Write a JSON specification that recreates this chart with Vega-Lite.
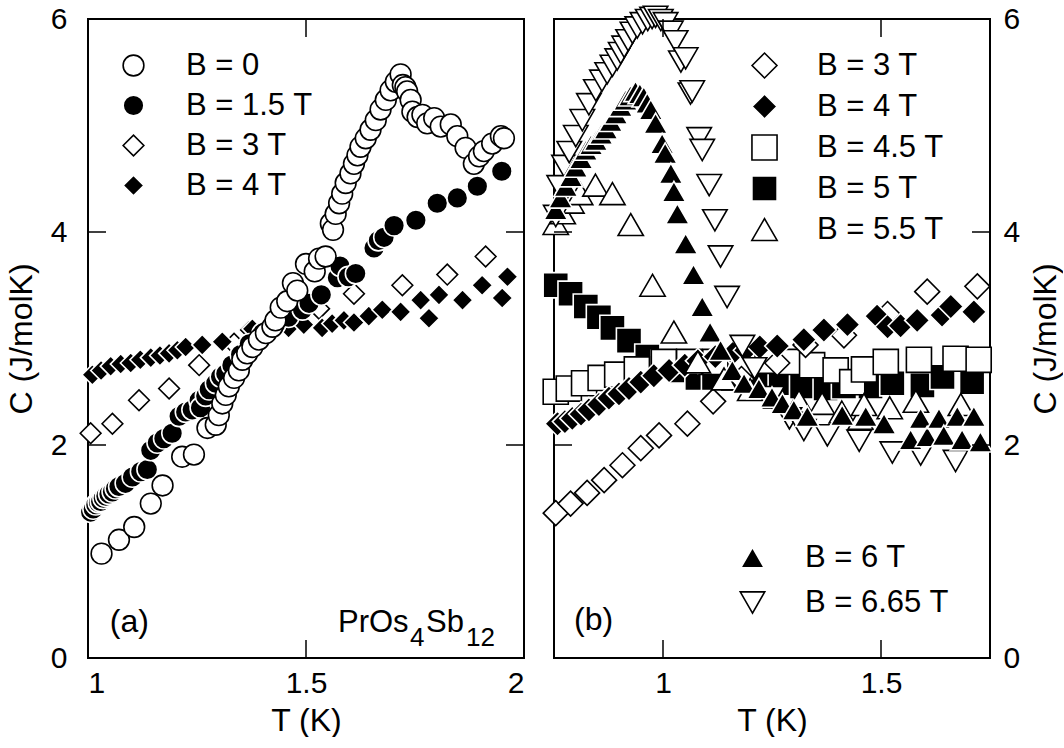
{
  "$schema": "https://vega.github.io/schema/vega-lite/v6.json",
  "background": "white",
  "padding": {"left": 4, "top": 2, "right": 0, "bottom": 0},
  "spacing": 10,
  "config": {
    "font": "Liberation Sans",
    "view": {"stroke": "black", "strokeWidth": 2},
    "axis": {
      "domain": false, "ticks": false, "grid": false,
      "labelFont": "Liberation Sans", "labelFontSize": 30, "labelColor": "black",
      "titleFont": "Liberation Sans", "titleFontSize": 32, "titleFontWeight": "normal", "titleColor": "black"
    },
    "legend": {
      "labelFont": "Liberation Sans", "labelFontSize": 31, "labelColor": "black",
      "padding": 0, "rowPadding": 8, "labelOffset": 37, "symbolOpacity": 1, "symbolStrokeWidth": 1.6, "titlePadding": 0
    }
  },
  "datasets": {
    "a": [
      {"B": "B = 3 T", "T": 1.006, "C": 2.11}, {"B": "B = 3 T", "T": 1.056, "C": 2.20}, {"B": "B = 3 T", "T": 1.117, "C": 2.42}, {"B": "B = 3 T", "T": 1.186, "C": 2.53}, {"B": "B = 3 T", "T": 1.255, "C": 2.75}, {"B": "B = 3 T", "T": 1.335, "C": 2.95}, {"B": "B = 3 T", "T": 1.40, "C": 3.03}, {"B": "B = 3 T", "T": 1.46, "C": 3.12}, {"B": "B = 3 T", "T": 1.53, "C": 3.28}, {"B": "B = 3 T", "T": 1.610, "C": 3.42}, {"B": "B = 3 T", "T": 1.721, "C": 3.50}, {"B": "B = 3 T", "T": 1.824, "C": 3.60}, {"B": "B = 3 T", "T": 1.912, "C": 3.77},
      {"B": "B = 4 T", "T": 1.010, "C": 2.66}, {"B": "B = 4 T", "T": 1.030, "C": 2.70}, {"B": "B = 4 T", "T": 1.052, "C": 2.74}, {"B": "B = 4 T", "T": 1.075, "C": 2.76}, {"B": "B = 4 T", "T": 1.098, "C": 2.77}, {"B": "B = 4 T", "T": 1.120, "C": 2.80}, {"B": "B = 4 T", "T": 1.144, "C": 2.82}, {"B": "B = 4 T", "T": 1.165, "C": 2.84}, {"B": "B = 4 T", "T": 1.186, "C": 2.86}, {"B": "B = 4 T", "T": 1.205, "C": 2.89}, {"B": "B = 4 T", "T": 1.224, "C": 2.92}, {"B": "B = 4 T", "T": 1.262, "C": 2.94}, {"B": "B = 4 T", "T": 1.308, "C": 2.97}, {"B": "B = 4 T", "T": 1.369, "C": 3.08}, {"B": "B = 4 T", "T": 1.377, "C": 3.09}, {"B": "B = 4 T", "T": 1.42, "C": 3.08}, {"B": "B = 4 T", "T": 1.46, "C": 3.10}, {"B": "B = 4 T", "T": 1.495, "C": 3.13}, {"B": "B = 4 T", "T": 1.537, "C": 3.10}, {"B": "B = 4 T", "T": 1.560, "C": 3.14}, {"B": "B = 4 T", "T": 1.587, "C": 3.17}, {"B": "B = 4 T", "T": 1.610, "C": 3.15}, {"B": "B = 4 T", "T": 1.644, "C": 3.21}, {"B": "B = 4 T", "T": 1.675, "C": 3.27}, {"B": "B = 4 T", "T": 1.717, "C": 3.25}, {"B": "B = 4 T", "T": 1.763, "C": 3.36}, {"B": "B = 4 T", "T": 1.782, "C": 3.19}, {"B": "B = 4 T", "T": 1.805, "C": 3.41}, {"B": "B = 4 T", "T": 1.859, "C": 3.36}, {"B": "B = 4 T", "T": 1.904, "C": 3.50}, {"B": "B = 4 T", "T": 1.950, "C": 3.38}, {"B": "B = 4 T", "T": 1.962, "C": 3.58},
      {"B": "B = 1.5 T", "T": 1.006, "C": 1.37}, {"B": "B = 1.5 T", "T": 1.012, "C": 1.40}, {"B": "B = 1.5 T", "T": 1.018, "C": 1.44}, {"B": "B = 1.5 T", "T": 1.024, "C": 1.46}, {"B": "B = 1.5 T", "T": 1.029, "C": 1.47}, {"B": "B = 1.5 T", "T": 1.035, "C": 1.50}, {"B": "B = 1.5 T", "T": 1.041, "C": 1.52}, {"B": "B = 1.5 T", "T": 1.048, "C": 1.54}, {"B": "B = 1.5 T", "T": 1.056, "C": 1.56}, {"B": "B = 1.5 T", "T": 1.063, "C": 1.59}, {"B": "B = 1.5 T", "T": 1.071, "C": 1.61}, {"B": "B = 1.5 T", "T": 1.086, "C": 1.64}, {"B": "B = 1.5 T", "T": 1.102, "C": 1.70}, {"B": "B = 1.5 T", "T": 1.121, "C": 1.75}, {"B": "B = 1.5 T", "T": 1.136, "C": 1.77}, {"B": "B = 1.5 T", "T": 1.144, "C": 1.95}, {"B": "B = 1.5 T", "T": 1.159, "C": 2.02}, {"B": "B = 1.5 T", "T": 1.174, "C": 2.06}, {"B": "B = 1.5 T", "T": 1.193, "C": 2.11}, {"B": "B = 1.5 T", "T": 1.209, "C": 2.27}, {"B": "B = 1.5 T", "T": 1.224, "C": 2.31}, {"B": "B = 1.5 T", "T": 1.239, "C": 2.33}, {"B": "B = 1.5 T", "T": 1.255, "C": 2.42}, {"B": "B = 1.5 T", "T": 1.258, "C": 2.35}, {"B": "B = 1.5 T", "T": 1.270, "C": 2.46}, {"B": "B = 1.5 T", "T": 1.278, "C": 2.52}, {"B": "B = 1.5 T", "T": 1.293, "C": 2.58}, {"B": "B = 1.5 T", "T": 1.304, "C": 2.64}, {"B": "B = 1.5 T", "T": 1.316, "C": 2.67}, {"B": "B = 1.5 T", "T": 1.33, "C": 2.75}, {"B": "B = 1.5 T", "T": 1.35, "C": 2.85}, {"B": "B = 1.5 T", "T": 1.37, "C": 2.95}, {"B": "B = 1.5 T", "T": 1.40, "C": 3.05}, {"B": "B = 1.5 T", "T": 1.43, "C": 3.13}, {"B": "B = 1.5 T", "T": 1.46, "C": 3.20}, {"B": "B = 1.5 T", "T": 1.492, "C": 3.27}, {"B": "B = 1.5 T", "T": 1.507, "C": 3.33}, {"B": "B = 1.5 T", "T": 1.535, "C": 3.41}, {"B": "B = 1.5 T", "T": 1.572, "C": 3.57}, {"B": "B = 1.5 T", "T": 1.578, "C": 3.68}, {"B": "B = 1.5 T", "T": 1.597, "C": 3.58}, {"B": "B = 1.5 T", "T": 1.614, "C": 3.61}, {"B": "B = 1.5 T", "T": 1.656, "C": 3.85}, {"B": "B = 1.5 T", "T": 1.666, "C": 3.92}, {"B": "B = 1.5 T", "T": 1.679, "C": 3.95}, {"B": "B = 1.5 T", "T": 1.702, "C": 4.06}, {"B": "B = 1.5 T", "T": 1.752, "C": 4.11}, {"B": "B = 1.5 T", "T": 1.801, "C": 4.27}, {"B": "B = 1.5 T", "T": 1.847, "C": 4.32}, {"B": "B = 1.5 T", "T": 1.893, "C": 4.43}, {"B": "B = 1.5 T", "T": 1.949, "C": 4.57},
      {"B": "B = 0", "T": 1.031, "C": 0.98}, {"B": "B = 0", "T": 1.071, "C": 1.11}, {"B": "B = 0", "T": 1.106, "C": 1.23}, {"B": "B = 0", "T": 1.144, "C": 1.45}, {"B": "B = 0", "T": 1.171, "C": 1.62}, {"B": "B = 0", "T": 1.216, "C": 1.89}, {"B": "B = 0", "T": 1.243, "C": 1.91}, {"B": "B = 0", "T": 1.274, "C": 2.16}, {"B": "B = 0", "T": 1.293, "C": 2.19}, {"B": "B = 0", "T": 1.300, "C": 2.28}, {"B": "B = 0", "T": 1.308, "C": 2.39}, {"B": "B = 0", "T": 1.316, "C": 2.47}, {"B": "B = 0", "T": 1.323, "C": 2.55}, {"B": "B = 0", "T": 1.335, "C": 2.63}, {"B": "B = 0", "T": 1.346, "C": 2.70}, {"B": "B = 0", "T": 1.354, "C": 2.80}, {"B": "B = 0", "T": 1.365, "C": 2.86}, {"B": "B = 0", "T": 1.377, "C": 2.92}, {"B": "B = 0", "T": 1.392, "C": 2.99}, {"B": "B = 0", "T": 1.408, "C": 3.05}, {"B": "B = 0", "T": 1.423, "C": 3.11}, {"B": "B = 0", "T": 1.430, "C": 3.17}, {"B": "B = 0", "T": 1.442, "C": 3.29}, {"B": "B = 0", "T": 1.457, "C": 3.35}, {"B": "B = 0", "T": 1.470, "C": 3.52}, {"B": "B = 0", "T": 1.480, "C": 3.45}, {"B": "B = 0", "T": 1.500, "C": 3.70}, {"B": "B = 0", "T": 1.520, "C": 3.63}, {"B": "B = 0", "T": 1.530, "C": 3.75}, {"B": "B = 0", "T": 1.545, "C": 3.77},
      {"B": "B = 0", "T": 1.557, "C": 4.08}, {"B": "B = 0", "T": 1.562, "C": 4.02}, {"B": "B = 0", "T": 1.568, "C": 4.17}, {"B": "B = 0", "T": 1.576, "C": 4.27}, {"B": "B = 0", "T": 1.583, "C": 4.36}, {"B": "B = 0", "T": 1.591, "C": 4.46}, {"B": "B = 0", "T": 1.602, "C": 4.55}, {"B": "B = 0", "T": 1.610, "C": 4.64}, {"B": "B = 0", "T": 1.618, "C": 4.72}, {"B": "B = 0", "T": 1.625, "C": 4.80}, {"B": "B = 0", "T": 1.637, "C": 4.88}, {"B": "B = 0", "T": 1.648, "C": 4.96}, {"B": "B = 0", "T": 1.660, "C": 5.05}, {"B": "B = 0", "T": 1.671, "C": 5.15}, {"B": "B = 0", "T": 1.683, "C": 5.24}, {"B": "B = 0", "T": 1.694, "C": 5.33}, {"B": "B = 0", "T": 1.706, "C": 5.41}, {"B": "B = 0", "T": 1.717, "C": 5.48}, {"B": "B = 0", "T": 1.722, "C": 5.38}, {"B": "B = 0", "T": 1.728, "C": 5.36}, {"B": "B = 0", "T": 1.732, "C": 5.32}, {"B": "B = 0", "T": 1.740, "C": 5.24}, {"B": "B = 0", "T": 1.744, "C": 5.13}, {"B": "B = 0", "T": 1.756, "C": 5.08}, {"B": "B = 0", "T": 1.767, "C": 5.10}, {"B": "B = 0", "T": 1.778, "C": 5.02}, {"B": "B = 0", "T": 1.794, "C": 5.07}, {"B": "B = 0", "T": 1.809, "C": 4.99}, {"B": "B = 0", "T": 1.832, "C": 5.01}, {"B": "B = 0", "T": 1.847, "C": 4.90}, {"B": "B = 0", "T": 1.866, "C": 4.79}, {"B": "B = 0", "T": 1.885, "C": 4.64}, {"B": "B = 0", "T": 1.897, "C": 4.71}, {"B": "B = 0", "T": 1.908, "C": 4.76}, {"B": "B = 0", "T": 1.927, "C": 4.83}, {"B": "B = 0", "T": 1.947, "C": 4.90}, {"B": "B = 0", "T": 1.954, "C": 4.88}
    ],
    "b1": [
      {"B": "B = 5 T", "T": 0.754, "C": 3.50}, {"B": "B = 5 T", "T": 0.788, "C": 3.42}, {"B": "B = 5 T", "T": 0.823, "C": 3.30}, {"B": "B = 5 T", "T": 0.853, "C": 3.20}, {"B": "B = 5 T", "T": 0.884, "C": 3.10}, {"B": "B = 5 T", "T": 0.922, "C": 2.98}, {"B": "B = 5 T", "T": 0.964, "C": 2.83}, {"B": "B = 5 T", "T": 1.002, "C": 2.77}, {"B": "B = 5 T", "T": 1.04, "C": 2.70}, {"B": "B = 5 T", "T": 1.079, "C": 2.63}, {"B": "B = 5 T", "T": 1.117, "C": 2.63}, {"B": "B = 5 T", "T": 1.16, "C": 2.62}, {"B": "B = 5 T", "T": 1.22, "C": 2.60}, {"B": "B = 5 T", "T": 1.270, "C": 2.58}, {"B": "B = 5 T", "T": 1.319, "C": 2.55}, {"B": "B = 5 T", "T": 1.373, "C": 2.53}, {"B": "B = 5 T", "T": 1.415, "C": 2.55}, {"B": "B = 5 T", "T": 1.476, "C": 2.55}, {"B": "B = 5 T", "T": 1.526, "C": 2.58}, {"B": "B = 5 T", "T": 1.595, "C": 2.56}, {"B": "B = 5 T", "T": 1.641, "C": 2.64}, {"B": "B = 5 T", "T": 1.709, "C": 2.59},
      {"B": "B = 4.5 T", "T": 0.754, "C": 2.50}, {"B": "B = 4.5 T", "T": 0.784, "C": 2.53}, {"B": "B = 4.5 T", "T": 0.819, "C": 2.58}, {"B": "B = 4.5 T", "T": 0.857, "C": 2.63}, {"B": "B = 4.5 T", "T": 0.895, "C": 2.66}, {"B": "B = 4.5 T", "T": 0.94, "C": 2.71}, {"B": "B = 4.5 T", "T": 1.002, "C": 2.78}, {"B": "B = 4.5 T", "T": 1.06, "C": 2.78}, {"B": "B = 4.5 T", "T": 1.12, "C": 2.78}, {"B": "B = 4.5 T", "T": 1.19, "C": 2.77}, {"B": "B = 4.5 T", "T": 1.24, "C": 2.79}, {"B": "B = 4.5 T", "T": 1.285, "C": 2.78}, {"B": "B = 4.5 T", "T": 1.342, "C": 2.75}, {"B": "B = 4.5 T", "T": 1.396, "C": 2.70}, {"B": "B = 4.5 T", "T": 1.434, "C": 2.59}, {"B": "B = 4.5 T", "T": 1.461, "C": 2.71}, {"B": "B = 4.5 T", "T": 1.511, "C": 2.78}, {"B": "B = 4.5 T", "T": 1.587, "C": 2.80}, {"B": "B = 4.5 T", "T": 1.671, "C": 2.81}, {"B": "B = 4.5 T", "T": 1.724, "C": 2.80},
      {"B": "B = 3 T", "T": 0.754, "C": 1.36}, {"B": "B = 3 T", "T": 0.788, "C": 1.45}, {"B": "B = 3 T", "T": 0.826, "C": 1.55}, {"B": "B = 3 T", "T": 0.865, "C": 1.67}, {"B": "B = 3 T", "T": 0.907, "C": 1.81}, {"B": "B = 3 T", "T": 0.949, "C": 1.97}, {"B": "B = 3 T", "T": 0.991, "C": 2.09}, {"B": "B = 3 T", "T": 1.056, "C": 2.20}, {"B": "B = 3 T", "T": 1.115, "C": 2.41}, {"B": "B = 3 T", "T": 1.18, "C": 2.62}, {"B": "B = 3 T", "T": 1.262, "C": 2.77}, {"B": "B = 3 T", "T": 1.327, "C": 2.94}, {"B": "B = 3 T", "T": 1.415, "C": 3.03}, {"B": "B = 3 T", "T": 1.515, "C": 3.23}, {"B": "B = 3 T", "T": 1.606, "C": 3.44}, {"B": "B = 3 T", "T": 1.721, "C": 3.49},
      {"B": "B = 4 T", "T": 0.758, "C": 2.20}, {"B": "B = 4 T", "T": 0.775, "C": 2.22}, {"B": "B = 4 T", "T": 0.792, "C": 2.25}, {"B": "B = 4 T", "T": 0.812, "C": 2.29}, {"B": "B = 4 T", "T": 0.830, "C": 2.33}, {"B": "B = 4 T", "T": 0.853, "C": 2.38}, {"B": "B = 4 T", "T": 0.876, "C": 2.44}, {"B": "B = 4 T", "T": 0.899, "C": 2.48}, {"B": "B = 4 T", "T": 0.922, "C": 2.53}, {"B": "B = 4 T", "T": 0.949, "C": 2.59}, {"B": "B = 4 T", "T": 0.979, "C": 2.65}, {"B": "B = 4 T", "T": 1.014, "C": 2.70}, {"B": "B = 4 T", "T": 1.050, "C": 2.75}, {"B": "B = 4 T", "T": 1.08, "C": 2.79}, {"B": "B = 4 T", "T": 1.12, "C": 2.83}, {"B": "B = 4 T", "T": 1.16, "C": 2.86}, {"B": "B = 4 T", "T": 1.19, "C": 2.89}, {"B": "B = 4 T", "T": 1.222, "C": 2.92}, {"B": "B = 4 T", "T": 1.262, "C": 2.93}, {"B": "B = 4 T", "T": 1.323, "C": 2.99}, {"B": "B = 4 T", "T": 1.369, "C": 3.08}, {"B": "B = 4 T", "T": 1.423, "C": 3.13}, {"B": "B = 4 T", "T": 1.491, "C": 3.21}, {"B": "B = 4 T", "T": 1.515, "C": 3.11}, {"B": "B = 4 T", "T": 1.545, "C": 3.12}, {"B": "B = 4 T", "T": 1.583, "C": 3.17}, {"B": "B = 4 T", "T": 1.640, "C": 3.22}, {"B": "B = 4 T", "T": 1.66, "C": 3.30}, {"B": "B = 4 T", "T": 1.713, "C": 3.25},
      {"B": "B = 5.5 T", "T": 0.754, "C": 4.08}, {"B": "B = 5.5 T", "T": 0.77, "C": 4.18}, {"B": "B = 5.5 T", "T": 0.79, "C": 4.28}, {"B": "B = 5.5 T", "T": 0.81, "C": 4.36}, {"B": "B = 5.5 T", "T": 0.845, "C": 4.44}, {"B": "B = 5.5 T", "T": 0.884, "C": 4.36}, {"B": "B = 5.5 T", "T": 0.926, "C": 4.07}, {"B": "B = 5.5 T", "T": 0.976, "C": 3.50}, {"B": "B = 5.5 T", "T": 1.025, "C": 3.06}, {"B": "B = 5.5 T", "T": 1.08, "C": 2.78}, {"B": "B = 5.5 T", "T": 1.14, "C": 2.62}, {"B": "B = 5.5 T", "T": 1.20, "C": 2.52}, {"B": "B = 5.5 T", "T": 1.26, "C": 2.45}, {"B": "B = 5.5 T", "T": 1.312, "C": 2.41}, {"B": "B = 5.5 T", "T": 1.365, "C": 2.39}, {"B": "B = 5.5 T", "T": 1.41, "C": 2.31}, {"B": "B = 5.5 T", "T": 1.453, "C": 2.25}, {"B": "B = 5.5 T", "T": 1.461, "C": 2.38}, {"B": "B = 5.5 T", "T": 1.52, "C": 2.35}, {"B": "B = 5.5 T", "T": 1.580, "C": 2.41}, {"B": "B = 5.5 T", "T": 1.683, "C": 2.38}
    ],
    "b2": [
      {"Bh": "B = 6.65 T", "T": 0.754, "C": 4.15}, {"Bh": "B = 6.65 T", "T": 0.762, "C": 4.43}, {"Bh": "B = 6.65 T", "T": 0.773, "C": 4.62}, {"Bh": "B = 6.65 T", "T": 0.785, "C": 4.75}, {"Bh": "B = 6.65 T", "T": 0.80, "C": 4.90}, {"Bh": "B = 6.65 T", "T": 0.815, "C": 5.05}, {"Bh": "B = 6.65 T", "T": 0.83, "C": 5.20}, {"Bh": "B = 6.65 T", "T": 0.846, "C": 5.33}, {"Bh": "B = 6.65 T", "T": 0.860, "C": 5.42}, {"Bh": "B = 6.65 T", "T": 0.872, "C": 5.49}, {"Bh": "B = 6.65 T", "T": 0.884, "C": 5.56}, {"Bh": "B = 6.65 T", "T": 0.895, "C": 5.62}, {"Bh": "B = 6.65 T", "T": 0.903, "C": 5.68}, {"Bh": "B = 6.65 T", "T": 0.911, "C": 5.74}, {"Bh": "B = 6.65 T", "T": 0.920, "C": 5.80}, {"Bh": "B = 6.65 T", "T": 0.930, "C": 5.87}, {"Bh": "B = 6.65 T", "T": 0.941, "C": 5.92}, {"Bh": "B = 6.65 T", "T": 0.953, "C": 5.96}, {"Bh": "B = 6.65 T", "T": 0.965, "C": 5.99}, {"Bh": "B = 6.65 T", "T": 0.975, "C": 6.01}, {"Bh": "B = 6.65 T", "T": 0.983, "C": 6.02}, {"Bh": "B = 6.65 T", "T": 0.995, "C": 5.99}, {"Bh": "B = 6.65 T", "T": 1.006, "C": 5.96}, {"Bh": "B = 6.65 T", "T": 1.018, "C": 5.88}, {"Bh": "B = 6.65 T", "T": 1.029, "C": 5.79}, {"Bh": "B = 6.65 T", "T": 1.041, "C": 5.60}, {"Bh": "B = 6.65 T", "T": 1.052, "C": 5.63}, {"Bh": "B = 6.65 T", "T": 1.063, "C": 5.30}, {"Bh": "B = 6.65 T", "T": 1.067, "C": 5.32}, {"Bh": "B = 6.65 T", "T": 1.083, "C": 4.88}, {"Bh": "B = 6.65 T", "T": 1.090, "C": 4.77}, {"Bh": "B = 6.65 T", "T": 1.106, "C": 4.44}, {"Bh": "B = 6.65 T", "T": 1.119, "C": 4.11}, {"Bh": "B = 6.65 T", "T": 1.132, "C": 3.77}, {"Bh": "B = 6.65 T", "T": 1.147, "C": 3.39}, {"Bh": "B = 6.65 T", "T": 1.182, "C": 2.93}, {"Bh": "B = 6.65 T", "T": 1.21, "C": 2.72}, {"Bh": "B = 6.65 T", "T": 1.25, "C": 2.45}, {"Bh": "B = 6.65 T", "T": 1.29, "C": 2.25}, {"Bh": "B = 6.65 T", "T": 1.323, "C": 2.14}, {"Bh": "B = 6.65 T", "T": 1.377, "C": 2.09}, {"Bh": "B = 6.65 T", "T": 1.45, "C": 2.04}, {"Bh": "B = 6.65 T", "T": 1.526, "C": 1.93}, {"Bh": "B = 6.65 T", "T": 1.591, "C": 1.91}, {"Bh": "B = 6.65 T", "T": 1.671, "C": 1.85},
      {"Bh": "B = 6 T", "T": 0.754, "C": 4.21}, {"Bh": "B = 6 T", "T": 0.765, "C": 4.32}, {"Bh": "B = 6 T", "T": 0.777, "C": 4.43}, {"Bh": "B = 6 T", "T": 0.789, "C": 4.52}, {"Bh": "B = 6 T", "T": 0.80, "C": 4.61}, {"Bh": "B = 6 T", "T": 0.812, "C": 4.69}, {"Bh": "B = 6 T", "T": 0.823, "C": 4.77}, {"Bh": "B = 6 T", "T": 0.835, "C": 4.82}, {"Bh": "B = 6 T", "T": 0.846, "C": 4.86}, {"Bh": "B = 6 T", "T": 0.858, "C": 4.92}, {"Bh": "B = 6 T", "T": 0.869, "C": 4.97}, {"Bh": "B = 6 T", "T": 0.880, "C": 5.04}, {"Bh": "B = 6 T", "T": 0.892, "C": 5.11}, {"Bh": "B = 6 T", "T": 0.903, "C": 5.18}, {"Bh": "B = 6 T", "T": 0.914, "C": 5.24}, {"Bh": "B = 6 T", "T": 0.925, "C": 5.28}, {"Bh": "B = 6 T", "T": 0.937, "C": 5.32}, {"Bh": "B = 6 T", "T": 0.947, "C": 5.30}, {"Bh": "B = 6 T", "T": 0.956, "C": 5.27}, {"Bh": "B = 6 T", "T": 0.964, "C": 5.21}, {"Bh": "B = 6 T", "T": 0.972, "C": 5.15}, {"Bh": "B = 6 T", "T": 0.983, "C": 5.02}, {"Bh": "B = 6 T", "T": 0.998, "C": 4.83}, {"Bh": "B = 6 T", "T": 1.005, "C": 4.74}, {"Bh": "B = 6 T", "T": 1.018, "C": 4.55}, {"Bh": "B = 6 T", "T": 1.025, "C": 4.38}, {"Bh": "B = 6 T", "T": 1.033, "C": 4.17}, {"Bh": "B = 6 T", "T": 1.052, "C": 3.89}, {"Bh": "B = 6 T", "T": 1.070, "C": 3.60}, {"Bh": "B = 6 T", "T": 1.090, "C": 3.30}, {"Bh": "B = 6 T", "T": 1.108, "C": 3.06}, {"Bh": "B = 6 T", "T": 1.132, "C": 2.89}, {"Bh": "B = 6 T", "T": 1.159, "C": 2.70}, {"Bh": "B = 6 T", "T": 1.186, "C": 2.58}, {"Bh": "B = 6 T", "T": 1.220, "C": 2.53}, {"Bh": "B = 6 T", "T": 1.25, "C": 2.45}, {"Bh": "B = 6 T", "T": 1.274, "C": 2.39}, {"Bh": "B = 6 T", "T": 1.300, "C": 2.33}, {"Bh": "B = 6 T", "T": 1.331, "C": 2.27}, {"Bh": "B = 6 T", "T": 1.411, "C": 2.28}, {"Bh": "B = 6 T", "T": 1.465, "C": 2.27}, {"Bh": "B = 6 T", "T": 1.507, "C": 2.20}, {"Bh": "B = 6 T", "T": 1.568, "C": 2.05}, {"Bh": "B = 6 T", "T": 1.591, "C": 2.25}, {"Bh": "B = 6 T", "T": 1.606, "C": 2.08}, {"Bh": "B = 6 T", "T": 1.633, "C": 2.25}, {"Bh": "B = 6 T", "T": 1.644, "C": 2.09}, {"Bh": "B = 6 T", "T": 1.675, "C": 2.27}, {"Bh": "B = 6 T", "T": 1.686, "C": 2.05}, {"Bh": "B = 6 T", "T": 1.713, "C": 2.27}, {"Bh": "B = 6 T", "T": 1.728, "C": 2.03}
    ]
  },
  "hconcat": [
    {
      "width": 436,
      "height": 639,
      "layer": [
        {
          "data": {"name": "a"},
          "mark": {"type": "point", "opacity": 1, "strokeWidth": 1.6},
          "encoding": {
            "x": {"field": "T", "type": "quantitative", "scale": {"domain": [1, 2], "nice": false, "zero": false},
                  "axis": {"orient": "bottom", "values": [1, 1.5, 2], "format": "~g", "title": "T (K)", "labelPadding": 10, "titlePadding": 7}},
            "y": {"field": "C", "type": "quantitative", "scale": {"domain": [0, 6], "nice": false, "zero": false},
                  "axis": {"orient": "left", "values": [0, 2, 4, 6], "format": "d", "title": "C (J/molK)", "labelPadding": 21, "titlePadding": 12}},
            "shape": {"field": "B", "type": "nominal", "scale": {"domain": ["B = 0", "B = 1.5 T", "B = 3 T", "B = 4 T"], "range": ["circle", "circle", "diamond", "diamond"]},
                      "legend": {"orient": "none", "legendX": 30, "legendY": 31, "title": null}},
            "fill": {"field": "B", "type": "nominal", "scale": {"domain": ["B = 0", "B = 1.5 T", "B = 3 T", "B = 4 T"], "range": ["white", "black", "white", "black"]},
                      "legend": {"orient": "none", "legendX": 30, "legendY": 31, "title": null}},
            "stroke": {"field": "B", "type": "nominal", "scale": {"domain": ["B = 0", "B = 1.5 T", "B = 3 T", "B = 4 T"], "range": ["black", "white", "black", "white"]},
                      "legend": {"orient": "none", "legendX": 30, "legendY": 31, "title": null}},
            "size": {"field": "B", "type": "ordinal", "scale": {"domain": ["B = 0", "B = 1.5 T", "B = 3 T", "B = 4 T"], "range": [430, 430, 640, 660]},
                      "legend": {"orient": "none", "legendX": 30, "legendY": 31, "title": null}}
          }
        },
        {
          "data": {"values": [{"T": 1.5, "C": 6}]},
          "mark": {"type": "point", "shape": "M0,0V1", "size": 1296, "filled": false, "stroke": "black", "strokeWidth": 1.5, "opacity": 1},
          "encoding": {"x": {"field": "T", "type": "quantitative"}, "y": {"field": "C", "type": "quantitative"}}
        },
        {
          "data": {"values": [{"T": 1.5, "C": 0}]},
          "mark": {"type": "point", "shape": "M0,0V-1", "size": 1296, "filled": false, "stroke": "black", "strokeWidth": 1.5, "opacity": 1},
          "encoding": {"x": {"field": "T", "type": "quantitative"}, "y": {"field": "C", "type": "quantitative"}}
        },
        {
          "data": {"values": [{"T": 1, "C": 2}, {"T": 1, "C": 4}]},
          "mark": {"type": "point", "shape": "M0,0H1", "size": 1296, "filled": false, "stroke": "black", "strokeWidth": 1.5, "opacity": 1},
          "encoding": {"x": {"field": "T", "type": "quantitative"}, "y": {"field": "C", "type": "quantitative"}}
        },
        {
          "data": {"values": [{"T": 2, "C": 2}, {"T": 2, "C": 4}]},
          "mark": {"type": "point", "shape": "M0,0H-1", "size": 1296, "filled": false, "stroke": "black", "strokeWidth": 1.5, "opacity": 1},
          "encoding": {"x": {"field": "T", "type": "quantitative"}, "y": {"field": "C", "type": "quantitative"}}
        },
        {
          "data": {"values": [{}]},
          "mark": {"type": "text", "align": "left", "baseline": "alphabetic", "fontSize": 32, "font": "Liberation Sans", "color": "black", "text": "(a)"},
          "encoding": {"x": {"datum": 1.05, "type": "quantitative"}, "y": {"datum": 0.245, "type": "quantitative"}}
        },
        {
          "data": {"values": [{}]},
          "mark": {"type": "text", "align": "left", "baseline": "alphabetic", "fontSize": 31, "font": "Liberation Sans", "color": "black", "text": "PrOs"},
          "encoding": {"x": {"datum": 1.5734, "type": "quantitative"}, "y": {"datum": 0.247, "type": "quantitative"}}
        },
        {
          "data": {"values": [{}]},
          "mark": {"type": "text", "align": "left", "baseline": "alphabetic", "fontSize": 26, "font": "Liberation Sans", "color": "black", "text": "4", "dx": 72, "dy": 14},
          "encoding": {"x": {"datum": 1.5734, "type": "quantitative"}, "y": {"datum": 0.247, "type": "quantitative"}}
        },
        {
          "data": {"values": [{}]},
          "mark": {"type": "text", "align": "left", "baseline": "alphabetic", "fontSize": 31, "font": "Liberation Sans", "color": "black", "text": "Sb", "dx": 88},
          "encoding": {"x": {"datum": 1.5734, "type": "quantitative"}, "y": {"datum": 0.247, "type": "quantitative"}}
        },
        {
          "data": {"values": [{}]},
          "mark": {"type": "text", "align": "left", "baseline": "alphabetic", "fontSize": 26, "font": "Liberation Sans", "color": "black", "text": "12", "dx": 128, "dy": 14},
          "encoding": {"x": {"datum": 1.5734, "type": "quantitative"}, "y": {"datum": 0.247, "type": "quantitative"}}
        }
      ]
    },
    {
      "width": 436,
      "height": 639,
      "resolve": {
        "scale": {"shape": "independent", "fill": "independent", "stroke": "independent", "size": "independent"},
        "legend": {"shape": "independent", "fill": "independent", "stroke": "independent", "size": "independent"}
      },
      "layer": [
        {
          "data": {"name": "b1"},
          "mark": {"type": "point", "opacity": 1, "strokeWidth": 1.6},
          "encoding": {
            "x": {"field": "T", "type": "quantitative", "scale": {"domain": [0.75, 1.75], "nice": false, "zero": false},
                  "axis": {"orient": "bottom", "values": [1, 1.5], "format": "~g", "title": "T (K)", "labelPadding": 10, "titlePadding": 7}},
            "y": {"field": "C", "type": "quantitative", "scale": {"domain": [0, 6], "nice": false, "zero": false},
                  "axis": {"orient": "right", "values": [0, 2, 4, 6], "format": "d", "title": "C (J/molK)", "titleAngle": 270, "titleBaseline": "top", "labelPadding": 13, "titlePadding": 11}},
            "shape": {"field": "B", "type": "nominal", "scale": {"domain": ["B = 3 T", "B = 4 T", "B = 4.5 T", "B = 5 T", "B = 5.5 T"], "range": ["diamond", "diamond", "square", "square", "triangle-up"]},
                      "legend": {"orient": "none", "legendX": 195, "legendY": 31, "title": null}},
            "fill": {"field": "B", "type": "nominal", "scale": {"domain": ["B = 3 T", "B = 4 T", "B = 4.5 T", "B = 5 T", "B = 5.5 T"], "range": ["white", "black", "white", "black", "white"]},
                      "legend": {"orient": "none", "legendX": 195, "legendY": 31, "title": null}},
            "stroke": {"field": "B", "type": "nominal", "scale": {"domain": ["B = 3 T", "B = 4 T", "B = 4.5 T", "B = 5 T", "B = 5.5 T"], "range": ["black", "white", "black", "white", "black"]},
                      "legend": {"orient": "none", "legendX": 195, "legendY": 31, "title": null}},
            "size": {"field": "B", "type": "ordinal", "scale": {"domain": ["B = 3 T", "B = 4 T", "B = 4.5 T", "B = 5 T", "B = 5.5 T"], "range": [620, 640, 350, 400, 520]},
                      "legend": {"orient": "none", "legendX": 195, "legendY": 31, "title": null}}
          }
        },
        {
          "data": {"name": "b2"},
          "mark": {"type": "point", "opacity": 1, "strokeWidth": 1.6},
          "encoding": {
            "x": {"field": "T", "type": "quantitative"},
            "y": {"field": "C", "type": "quantitative"},
            "shape": {"field": "Bh", "type": "nominal", "scale": {"domain": ["B = 6 T", "B = 6.65 T"], "range": ["triangle-up", "triangle-down"]},
                      "legend": {"orient": "none", "legendX": 183, "legendY": 523, "title": null, "rowPadding": 13}},
            "fill": {"field": "Bh", "type": "nominal", "scale": {"domain": ["B = 6 T", "B = 6.65 T"], "range": ["black", "white"]},
                      "legend": {"orient": "none", "legendX": 183, "legendY": 523, "title": null, "rowPadding": 13}},
            "stroke": {"field": "Bh", "type": "nominal", "scale": {"domain": ["B = 6 T", "B = 6.65 T"], "range": ["white", "black"]},
                      "legend": {"orient": "none", "legendX": 183, "legendY": 523, "title": null, "rowPadding": 13}},
            "size": {"field": "Bh", "type": "ordinal", "scale": {"domain": ["B = 6 T", "B = 6.65 T"], "range": [560, 600]},
                      "legend": {"orient": "none", "legendX": 183, "legendY": 523, "title": null, "rowPadding": 13}}
          }
        },
        {
          "data": {"values": [{"T": 1, "C": 6}, {"T": 1.5, "C": 6}]},
          "mark": {"type": "point", "shape": "M0,0V1", "size": 1296, "filled": false, "stroke": "black", "strokeWidth": 1.5, "opacity": 1},
          "encoding": {"x": {"field": "T", "type": "quantitative"}, "y": {"field": "C", "type": "quantitative"}}
        },
        {
          "data": {"values": [{"T": 1, "C": 0}, {"T": 1.5, "C": 0}]},
          "mark": {"type": "point", "shape": "M0,0V-1", "size": 1296, "filled": false, "stroke": "black", "strokeWidth": 1.5, "opacity": 1},
          "encoding": {"x": {"field": "T", "type": "quantitative"}, "y": {"field": "C", "type": "quantitative"}}
        },
        {
          "data": {"values": [{"T": 0.75, "C": 2}, {"T": 0.75, "C": 4}]},
          "mark": {"type": "point", "shape": "M0,0H1", "size": 1296, "filled": false, "stroke": "black", "strokeWidth": 1.5, "opacity": 1},
          "encoding": {"x": {"field": "T", "type": "quantitative"}, "y": {"field": "C", "type": "quantitative"}}
        },
        {
          "data": {"values": [{"T": 1.75, "C": 2}, {"T": 1.75, "C": 4}]},
          "mark": {"type": "point", "shape": "M0,0H-1", "size": 1296, "filled": false, "stroke": "black", "strokeWidth": 1.5, "opacity": 1},
          "encoding": {"x": {"field": "T", "type": "quantitative"}, "y": {"field": "C", "type": "quantitative"}}
        },
        {
          "data": {"values": [{}]},
          "mark": {"type": "text", "align": "left", "baseline": "alphabetic", "fontSize": 32, "font": "Liberation Sans", "color": "black", "text": "(b)"},
          "encoding": {"x": {"datum": 0.796, "type": "quantitative"}, "y": {"datum": 0.26, "type": "quantitative"}}
        }
      ]
    }
  ]
}
